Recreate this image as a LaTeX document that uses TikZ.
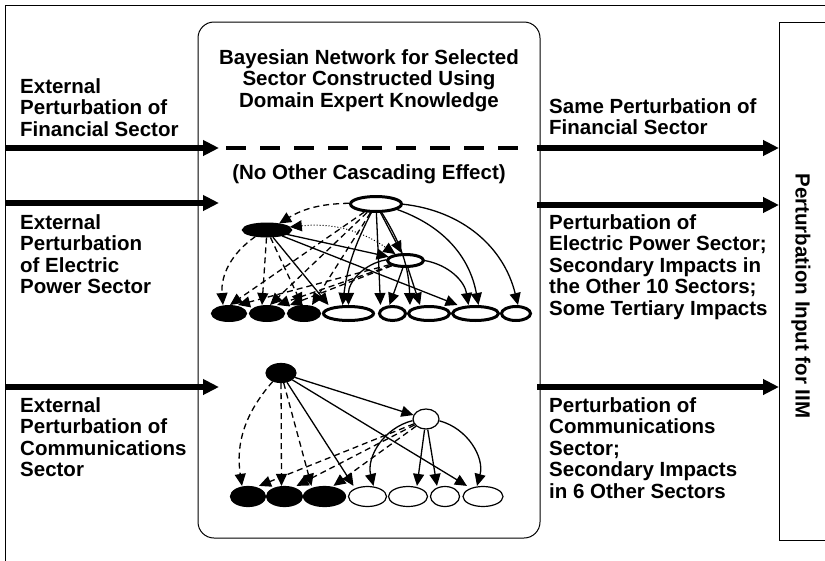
\documentclass[tikz,border=0pt]{standalone}
\usepackage{fontspec}
\setmainfont{Liberation Sans}
\usetikzlibrary{arrows.meta,shapes.geometric}

\begin{document}
\begin{tikzpicture}[x=1pt,y=-1pt,
  txt/.style={font=\bfseries\fontsize{20.5}{21.6}\selectfont, inner sep=0pt, align=left, anchor=north west},
  head/.style={txt, align=center, anchor=north},
  fat/.style={line width=5.5pt, -{Triangle[length=16pt,width=15pt]}},
  bnode/.style={ellipse, draw, line width=3pt, inner sep=0pt, minimum height=14pt},
  cnode/.style={ellipse, draw, line width=1.2pt, inner sep=0pt, minimum height=20pt},
  arr/.style={line width=1.3pt, -{Triangle[length=12pt,width=11pt]}},
  darr/.style={arr, dash pattern=on 6pt off 4pt},
  dotarr/.style={line width=1pt, dotted, {Triangle[length=12pt,width=11pt]}-{Triangle[length=12pt,width=11pt]}},
]
\clip (0,0) rectangle (825,560);
\draw[line width=1pt] (5,5) rectangle (840,575);
\node[draw, line width=1pt, rounded corners=16pt, minimum width=342pt, minimum height=516pt, inner sep=0pt] (bnbox) at (369,280) {};
\draw[line width=1pt] (779,22) rectangle (840,540);
\node[txt, rotate=-90, anchor=center] (iim) at (801,296) {Perturbation Input for IIM};

\node[txt] (finin) at (20,78) {External\\Perturbation of\\Financial Sector};
\node[head] (title) at (369,49) {Bayesian Network for Selected\\Sector Constructed Using\\Domain Expert Knowledge};
\node[txt] (finout) at (549,98) {Same Perturbation of\\Financial Sector};
\node[head] (nocasc) at (369,164) {(No Other Cascading Effect)};
\node[txt] (elin) at (20,214) {External\\Perturbation\\of Electric\\Power Sector};
\node[txt] (elout) at (549,214) {Perturbation of\\Electric Power Sector;\\Secondary Impacts in\\the Other 10 Sectors;\\Some Tertiary Impacts};
\node[txt] (comin) at (20,397) {External\\Perturbation of\\Communications\\Sector};
\node[txt] (comout) at (549,397) {Perturbation of\\Communications\\Sector;\\Secondary Impacts\\in 6 Other Sectors};

\coordinate (f0) at (5,148);
\coordinate (f1) at (219,148);
\coordinate (f2) at (226,148);
\coordinate (f3) at (520,148);
\coordinate (f4) at (537,148);
\coordinate (f5) at (779,148);
\coordinate (p0) at (5,203);
\coordinate (p1) at (219,203);
\coordinate (p2) at (537,205);
\coordinate (p3) at (779,205);
\coordinate (q0) at (5,387);
\coordinate (q1) at (219,387);
\coordinate (q2) at (537,387);
\coordinate (q3) at (779,387);
\draw[fat] (f0) -- (f1);
\draw[line width=4pt, dash pattern=on 20pt off 14pt] (f2) -- (f3);
\draw[fat] (f4) -- (f5);
\draw[fat] (p0) -- (p1);
\draw[fat] (p2) -- (p3);
\draw[fat] (q0) -- (q1);
\draw[fat] (q2) -- (q3);

\node[bnode, minimum width=51pt, minimum height=15pt] (et) at (376,204) {};
\node[bnode, fill=black, minimum width=47pt, minimum height=12pt] (eb) at (267,230) {};
\node[bnode, minimum width=36pt, minimum height=12pt] (em) at (405.5,260.5) {};
\node[bnode, fill=black, minimum width=33pt] (e1) at (229,313.5) {};
\node[bnode, fill=black, minimum width=33pt] (e2) at (267,313.5) {};
\node[bnode, fill=black, minimum width=31pt] (e3) at (304,313.5) {};
\node[bnode, minimum width=50pt] (e4) at (348.5,313.5) {};
\node[bnode, minimum width=26pt] (e5) at (392.5,313.5) {};
\node[bnode, minimum width=41pt] (e6) at (429,313.5) {};
\node[bnode, minimum width=46pt] (e7) at (475.5,313.5) {};
\node[bnode, minimum width=29pt] (e8) at (516,313.5) {};

\draw[darr] (et) to[bend right=15] (eb);
\draw[dotarr] (eb) to[bend left=20] (em);
\draw[darr] (eb) to[bend right=30] ([xshift=-6pt]e1.north);
\draw[darr] (et) -- ([xshift=1pt]e1.north);
\draw[darr] (em) -- ([xshift=9pt]e1.north);
\draw[darr] (eb) -- ([xshift=-5pt]e2.north);
\draw[darr] (et) -- ([xshift=3pt]e2.north);
\draw[darr] (em) -- ([xshift=10pt]e2.north);
\draw[darr] (em) -- ([xshift=-14pt]e3.north);
\draw[darr] (eb) -- ([xshift=-2pt]e3.north);
\draw[darr] (et) -- ([xshift=8pt]e3.north);
\draw[arr] (eb) -- (em);
\draw[arr] (eb) -- ([xshift=-20pt]e4.north);
\draw[arr] (eb) -- ([xshift=-18pt]e7.north);
\draw[arr] (et) to[bend right=10] ([xshift=-6pt]e4.north);
\draw[arr] (em) to[bend right=40] (e4.north);
\draw[arr] (et) -- ([xshift=-12pt]e5.north);
\draw[arr] (em) -- ([xshift=-3pt]e5.north);
\draw[arr] (et) -- (em);
\draw[arr] (et) to[bend left=15] ([xshift=-19pt]e6.north);
\draw[arr] (em) -- ([xshift=-9pt]e6.north);
\draw[arr] (em) to[bend left=35] ([xshift=-7pt]e7.north);
\draw[arr] (et) to[bend left=30] ([xshift=3pt]e7.north);
\draw[arr] (et) to[bend left=35] ([xshift=2pt]e8.north);

\node[cnode, fill=black, minimum width=30pt, minimum height=19pt] (cs) at (281,373) {};
\node[cnode, minimum width=26pt] (cw) at (426,419) {};
\node[cnode, fill=black, minimum width=35pt] (k1) at (248,496.5) {};
\node[cnode, fill=black, minimum width=36pt] (k2) at (284.5,496.5) {};
\node[cnode, fill=black, minimum width=42pt] (k3) at (324.5,496.5) {};
\node[cnode, minimum width=38pt] (k4) at (367.5,496.5) {};
\node[cnode, minimum width=39pt] (k5) at (408,496.5) {};
\node[cnode, minimum width=29pt] (k6) at (445,496.5) {};
\node[cnode, minimum width=40pt] (k7) at (483,496.5) {};

\draw[arr] (cs) -- (cw);
\draw[darr] (cs) to[bend right=25] ([xshift=-6pt]k1.north);
\draw[darr] (cs) -- ([xshift=-3pt]k2.north);
\draw[darr] (cs) -- ([xshift=-13pt]k3.north);
\draw[arr] (cs) -- ([xshift=-14pt]k4.north);
\draw[arr] (cs) -- ([xshift=-16pt]k7.north);
\draw[darr] (cw) -- ([xshift=11pt]k1.north);
\draw[darr] (cw) -- ([xshift=12pt]k2.north);
\draw[darr] (cw) -- ([xshift=9pt]k3.north);
\draw[arr] (cw) to[bend right=45] ([xshift=6pt]k4.north);
\draw[arr] (cw) -- ([xshift=9pt]k5.north);
\draw[arr] (cw) -- ([xshift=-8pt]k6.north);
\draw[arr] (cw) to[bend left=45] ([xshift=-6pt]k7.north);
\end{tikzpicture}
\end{document}
